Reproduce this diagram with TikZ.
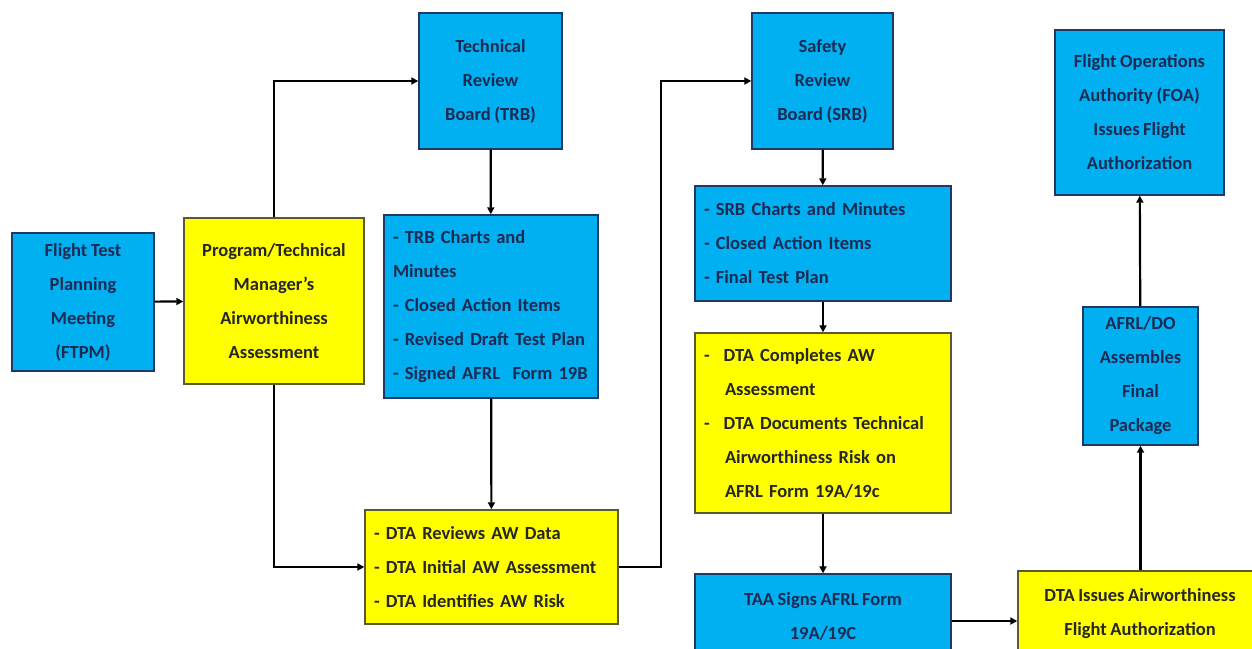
\documentclass[tikz,border=0pt]{standalone}
\usepackage{fontspec}
\setmainfont{Carlito}[WordSpace=0.85]
\usetikzlibrary{arrows.meta}

\definecolor{boxblue}{RGB}{0,176,240}
\definecolor{boxyellow}{RGB}{255,255,0}
\definecolor{navytext}{RGB}{28,42,84}
\definecolor{navyline}{RGB}{32,56,100}
\definecolor{oliveline}{RGB}{90,90,50}

\tikzset{
  bluebox/.style={draw=navyline, line width=1.4pt, fill=boxblue, text=navytext,
    font=\fontsize{18.5}{34}\selectfont\bfseries, align=center, inner sep=4pt},
  yellowbox/.style={draw=oliveline, line width=1.4pt, fill=boxyellow, text=black!85,
    font=\fontsize{18.5}{34}\selectfont\bfseries, align=center, inner sep=4pt},
  leftbox/.style={align=left, inner xsep=9pt},
  arr/.style={line width=2.2pt, -{Triangle[length=7pt,width=7pt]}},
}

\begin{document}
\begin{tikzpicture}[x=1pt,y=-1pt]
\useasboundingbox[fill=white] (0,0) rectangle (1252,648);
\clip (0,0) rectangle (1252,648);

% left column
\node[bluebox, minimum width=142, minimum height=138] (ftpm) at (83,302)
  {Flight Test\\Planning\\Meeting\\(FTPM)};
\node[yellowbox, minimum width=180, minimum height=166] (pm) at (274,301)
  {Program/Technical\\Manager's\\Airworthiness\\Assessment};

% technical review
\node[bluebox, minimum width=143, minimum height=136] (trb) at (490.5,81)
  {Technical\\Review\\Board (TRB)};
\node[bluebox, leftbox, text width=196, minimum height=183] (trbout) at (491,306.5)
  {- TRB Charts and\\Minutes\\- Closed Action Items\\- Revised Draft Test Plan\\- Signed AFRL\ \ Form 19B};
\node[yellowbox, leftbox, text width=235, minimum height=114] (dtarev) at (491.5,567)
  {- DTA Reviews AW Data\\- DTA Initial AW Assessment\\- DTA Identifies AW Risk};

% safety review
\node[bluebox, minimum width=141, minimum height=136] (srb) at (822.5,81)
  {Safety\\Review\\Board (SRB)};
\node[bluebox, leftbox, text width=238, minimum height=115] (srbout) at (823,243.5)
  {- SRB Charts and Minutes\\- Closed Action Items\\- Final Test Plan};
\node[yellowbox, leftbox, text width=238, minimum height=180] (dtacomp) at (823,423)
  {-\hspace{14pt}DTA Completes AW\\\hspace{21pt}Assessment\\-\hspace{14pt}DTA Documents Technical\\\hspace{21pt}Airworthiness Risk on\\\hspace{21pt}AFRL Form 19A/19c};
\node[bluebox, minimum width=256, minimum height=84] (taa) at (823,616)
  {TAA Signs AFRL Form\\19A/19C};

% authorization
\node[yellowbox, minimum width=244, minimum height=86] (dtaiss) at (1140,614)
  {DTA Issues Airworthiness\\Flight Authorization};
\node[bluebox, minimum width=115, minimum height=138] (afrl) at (1140.5,376)
  {AFRL/DO\\Assembles\\Final\\Package};
\node[bluebox, minimum width=169, minimum height=165] (foa) at (1139.5,112.5)
  {Flight Operations\\Authority (FOA)\\Issues Flight\\Authorization};

% connectors
\coordinate (turn) at (661,567);
\draw[arr] (ftpm) -- (pm);
\draw[arr] (pm.north) |- (trb.west);
\draw[arr] (pm.south) |- (dtarev.west);
\draw[arr] (trb) -- (trbout);
\draw[arr] (trbout) -- (dtarev);
\draw[arr] (dtarev.east) -- (turn) |- (srb.west);
\draw[arr] (srb) -- (srbout);
\draw[arr] (srbout) -- (dtacomp);
\draw[arr] (dtacomp) -- (taa);
\draw[arr] ([yshift=-5]taa.east) -- ([yshift=-5]taa.east -| dtaiss.west);
\draw[arr] (dtaiss.north -| afrl.south) -- (afrl.south);
\draw[arr] (afrl) -- (foa);
\end{tikzpicture}
\end{document}
